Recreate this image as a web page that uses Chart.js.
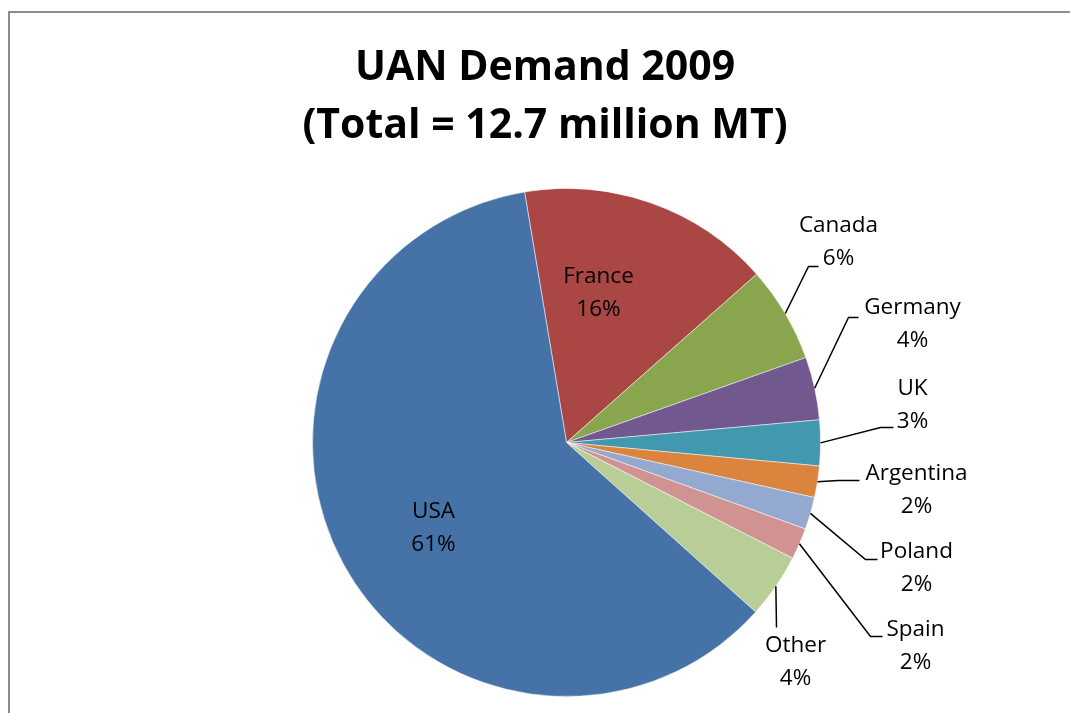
<!DOCTYPE html>
<html>
<head>
<meta charset="utf-8">
<script src="https://cdn.jsdelivr.net/npm/chart.js@4.4.0/dist/chart.umd.min.js"></script>
<style>
html, body { margin: 0; padding: 0; background: #fff; overflow: hidden; }
#wrap { position: relative; width: 1070px; height: 713px; }
#frame { position: absolute; left: 8px; top: 11px; width: 1100px; height: 800px; border: 2px solid #8c8c8c; box-sizing: border-box; }
canvas { position: absolute; left: 0; top: 0; }
</style>
</head>
<body>
<div id="wrap">
    <div id="frame"></div>
    <canvas id="pie" width="1070" height="713"></canvas>
</div>
<script>
// Chart data
const titleLines = ['UAN Demand 2009', '(Total = 12.7 million MT)'];
const countries = ['France', 'Canada', 'Germany', 'UK', 'Argentina', 'Poland', 'Spain', 'Other', 'USA'];
const shares = [16.1, 6.1, 4.0, 2.9, 2.0, 2.05, 2.0, 4.1, 60.7];
const sliceColors = ['#AA4643', '#89A54E', '#71588F', '#4198AF', '#DB843D', '#93A9CF', '#D19392', '#B9CD96', '#4572A7'];

// Label placement relative to pie centre (px); path = leader line points after the arc edge
const labelLayout = {
    France:    { x: 32,   y: -150 },
    USA:       { x: -133, y: 85 },
    Canada:    { x: 272,  y: -201, path: [[242, -176], [252, -176]] },
    Germany:   { x: 346,  y: -119, path: [[282, -125], [292, -125]] },
    UK:        { x: 346,  y: -38,  path: [[314, -15], [327, -15]] },
    Argentina: { x: 350,  y: 47,   path: [[272, 38], [293, 38]] },
    Poland:    { x: 350,  y: 125,  path: [[299, 117], [311, 117]] },
    Spain:     { x: 349,  y: 203,  path: [[304, 194], [316, 194]] },
    Other:     { x: 229,  y: 219,  path: [[210, 185]] }
};

const labelFont = '22.5px "Open Sans", sans-serif';
const titleFont = 'bold 41px "Open Sans", sans-serif';

const total = shares.reduce((a, b) => a + b, 0);

const pieLabels = {
    id: 'pieLabels',
    afterDatasetsDraw(chart) {
        const ctx = chart.ctx;
        const meta = chart.getDatasetMeta(0);
        ctx.save();
        meta.data.forEach((arc, i) => {
            const name = countries[i];
            const cfg = labelLayout[name];
            const cx = arc.x, cy = arc.y;
            if (cfg.path) {
                const mid = (arc.startAngle + arc.endAngle) / 2;
                ctx.beginPath();
                ctx.moveTo(cx + Math.cos(mid) * arc.outerRadius, cy + Math.sin(mid) * arc.outerRadius);
                cfg.path.forEach(p => ctx.lineTo(cx + p[0], cy + p[1]));
                ctx.strokeStyle = '#000';
                ctx.lineWidth = 1.5;
                ctx.stroke();
            }
            const pct = Math.round(shares[i] / total * 100) + '%';
            ctx.font = labelFont;
            ctx.fillStyle = '#000';
            ctx.textAlign = 'center';
            ctx.textBaseline = 'middle';
            ctx.fillText(name, cx + cfg.x, cy + cfg.y - 16);
            ctx.fillText(pct, cx + cfg.x, cy + cfg.y + 17);
        });
        ctx.restore();
    }
};

const titleText = {
    id: 'titleText',
    afterDraw(chart) {
        const ctx = chart.ctx;
        ctx.save();
        ctx.font = titleFont;
        ctx.fillStyle = '#000';
        ctx.textAlign = 'center';
        ctx.textBaseline = 'middle';
        titleLines.forEach((line, i) => ctx.fillText(line, 545, 68 + i * 58));
        ctx.restore();
    }
};

new Chart(document.getElementById('pie'), {
    type: 'pie',
    data: {
        labels: countries,
        datasets: [{
            data: shares,
            backgroundColor: sliceColors,
            borderColor: 'rgba(255,255,255,0.5)',
            borderWidth: 1
        }]
    },
    options: {
        responsive: false,
        animation: false,
        devicePixelRatio: 1,
        rotation: -9.5,
        layout: { padding: { top: 188, bottom: 16, left: 312, right: 249 } },
        plugins: {
            legend: { display: false },
            tooltip: { enabled: false },
            title: { display: false }
        }
    },
    plugins: [pieLabels, titleText]
});
</script>
</body>
</html>
